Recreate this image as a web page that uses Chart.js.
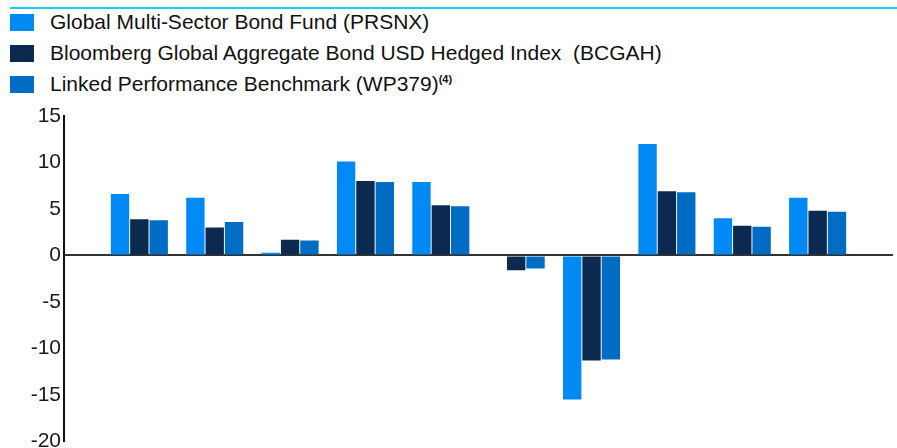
<!DOCTYPE html>
<html>
<head>
<meta charset="utf-8">
<script src="https://cdn.jsdelivr.net/npm/chart.js@4/dist/chart.umd.min.js"></script>
<style>
  html, body { margin: 0; padding: 0; background: #fff; }
  #wrap { position: relative; width: 897px; height: 448px; overflow: hidden; font-family: "Liberation Sans", Arial, sans-serif; }
  #topline { position: absolute; left: 10px; right: 0; top: 7px; height: 2px; background: #14d2ef; }
  .leg { position: absolute; left: 10px; height: 18px; font-size: 21px; color: #111; white-space: pre; }
  .leg .box { position: absolute; left: 0; top: 0; width: 24px; height: 17px; }
  .leg .txt { position: absolute; left: 40px; top: -4px; line-height: 24px; }
  .leg sup { font-size: 11px; font-weight: bold; vertical-align: 0; position: relative; top: -8px; }
  canvas { position: absolute; left: 0; top: 0; }
</style>
</head>
<body>
<div id="wrap">
  <div id="topline"></div>
  <div id="legend"></div>
  <!-- canvas runs a little past the frame so the -20 line lands on the bottom edge -->
  <canvas id="chart" width="897" height="457"></canvas>
</div>
<script>
// one slot of padding at each end, the 10 periods sit in between (no x labels shown)
const categories = ['', '', '', '', '', '', '', '', '', '', '', ''];

const fundValues      = [null, 6.6, 6.2, 0.3, 10.1, 7.9, 0.1, -15.5, 12.0, 4.0, 6.2, null];
const indexValues     = [null, 3.9, 3.0, 1.7, 8.0, 5.4, -1.6, -11.3, 6.9, 3.2, 4.8, null];
const benchmarkValues = [null, 3.8, 3.6, 1.6, 7.9, 5.3, -1.4, -11.2, 6.8, 3.1, 4.7, null];

const seriesNames = [
  'Global Multi-Sector Bond Fund (PRSNX)',
  'Bloomberg Global Aggregate Bond USD Hedged Index  (BCGAH)',
  'Linked Performance Benchmark (WP379)',
];
const seriesNotes = ['', '', '(4)'];
const seriesColors = ['#0189f4', '#0c2a4f', '#016cc3'];

// html legend (needs the superscript note)
const legendEl = document.getElementById('legend');
seriesNames.forEach((name, i) => {
  const row = document.createElement('div');
  row.className = 'leg';
  row.style.top = (14 + i * 31) + 'px';
  row.innerHTML = `<div class="box" style="background:${seriesColors[i]}"></div>` +
    `<div class="txt">${name}${seriesNotes[i] ? '<sup>' + seriesNotes[i] + '</sup>' : ''}</div>`;
  legendEl.appendChild(row);
});

const allValues = [fundValues, indexValues, benchmarkValues];

new Chart(document.getElementById('chart'), {
  type: 'bar',
  data: {
    labels: categories,
    datasets: allValues.map((vals, i) => ({
      label: seriesNames[i],
      data: vals,
      backgroundColor: seriesColors[i],
      borderWidth: 0,
      categoryPercentage: 0.77,
      barPercentage: 0.95,
    })),
  },
  options: {
    responsive: false,
    animation: false,
    layout: { padding: { top: 116, right: 4, bottom: 0, left: 0 } },
    plugins: {
      legend: { display: false },
      tooltip: { enabled: false },
    },
    scales: {
      x: {
        display: false,
        offset: false,
      },
      y: {
        min: -20,
        max: 15,
        afterFit: (scale) => { scale.width = 64; },
        ticks: {
          stepSize: 5,
          padding: 3,
          color: '#1a1a1a',
          font: { family: 'Liberation Sans', size: 21 },
        },
        border: { display: true, color: '#111', width: 2 },
        grid: {
          drawTicks: false,
          lineWidth: 2,
          color: (ctx) => (ctx.tick && ctx.tick.value === 0 ? '#333' : 'rgba(0,0,0,0)'),
        },
      },
    },
  },
});
</script>
</body>
</html>
